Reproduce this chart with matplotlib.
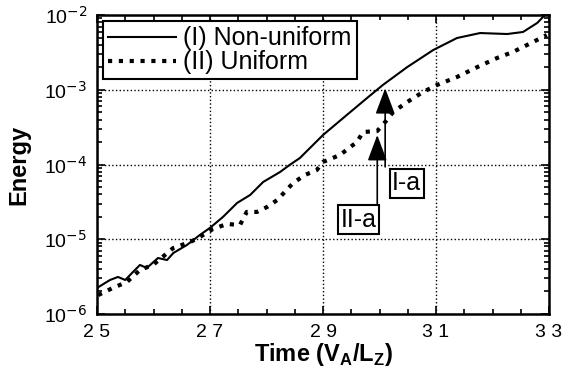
import matplotlib.pyplot as plt
from matplotlib.ticker import MultipleLocator, LogLocator, NullFormatter

plt.rcParams['font.family'] = ['Liberation Sans', 'DejaVu Sans']
plt.rcParams['mathtext.fontset'] = 'custom'
plt.rcParams['mathtext.rm'] = 'Liberation Sans'
plt.rcParams['mathtext.bf'] = 'Liberation Sans:bold'

# (I) Non-uniform
t_nonuni = [25.00, 25.23, 25.37, 25.50, 25.62, 25.76, 25.88, 26.08, 26.24, 26.35,
            26.59, 26.82, 27.00, 27.23, 27.48, 27.71, 27.94, 28.24, 28.42, 28.59,
            29.00, 29.42, 29.78, 30.06, 30.49, 30.95, 31.37, 31.78, 32.26, 32.54,
            32.79, 32.96, 33.00]
e_nonuni = [2.23e-6, 2.85e-6, 3.13e-6, 2.85e-6, 3.54e-6, 4.53e-6, 4.12e-6, 5.61e-6, 5.27e-6, 6.54e-6,
            8.37e-6, 1.14e-5, 1.42e-5, 1.99e-5, 3.06e-5, 3.91e-5, 5.83e-5, 7.94e-5, 1.00e-4, 1.22e-4,
            2.48e-4, 4.59e-4, 7.76e-4, 1.16e-3, 2.01e-3, 3.40e-3, 4.92e-3, 5.74e-3, 5.57e-3, 5.93e-3,
            7.82e-3, 1.06e-2, 1.2e-2]

# (II) Uniform
t_uni = [25.02, 25.28, 25.53, 25.76, 25.99, 26.35, 26.65, 26.82, 27.05, 27.30,
         27.53, 27.65, 27.83, 28.01, 28.19, 28.47, 28.68, 28.89, 29.00, 29.30,
         29.60, 29.71, 29.96, 30.13, 30.24, 30.49, 30.77, 31.02, 31.37, 31.73,
         32.08, 32.36, 32.72, 32.96]
e_uni = [1.79e-6, 2.23e-6, 2.68e-6, 3.88e-6, 4.53e-6, 7.64e-6, 9.19e-6, 1.07e-5, 1.37e-5, 1.60e-5,
         1.55e-5, 2.32e-5, 2.32e-5, 2.70e-5, 3.35e-5, 5.65e-5, 7.24e-5, 8.44e-5, 1.08e-4, 1.34e-4,
         2.00e-4, 2.72e-4, 2.81e-4, 3.93e-4, 5.03e-4, 6.85e-4, 9.33e-4, 1.16e-3, 1.48e-3, 2.01e-3,
         2.66e-3, 3.20e-3, 4.36e-3, 5.40e-3]

# annotations: label, arrow x, arrow tip, arrow base, box centre
annot_labels = ['I-a', 'II-a']
annot_x = [30.10, 29.96]
annot_tip = [1.05e-3, 2.48e-4]
annot_base = [9.3e-5, 2.87e-5]
box_x = [30.48, 29.63]
box_y = [5.65e-5, 1.81e-5]

x_ticks = [25, 27, 29, 31, 33]
x_labels = ['2 5', '2 7', '2 9', '3 1', '3 3']
y_ticks = [1e-6, 1e-5, 1e-4, 1e-3, 1e-2]
y_labels = [r'10$^{\mathsf{-6}}$', r'10$^{\mathsf{-5}}$', r'10$^{\mathsf{-4}}$',
            r'10$^{\mathsf{-3}}$', r'10$^{\mathsf{-2}}$']

fig = plt.figure(figsize=(5.66, 3.69), dpi=100)
ax = fig.add_axes([0.1714, 0.1491, 0.7986, 0.8102])

ax.plot(t_nonuni, e_nonuni, color='black', lw=1.5, label='(I) Non-uniform')
ax.plot(t_uni, e_uni, color='black', lw=3, linestyle=(0, (1, 1.6)),
        dash_capstyle='butt', label='(II) Uniform')

for lab, ax_x, tip, base, bx, by in zip(annot_labels, annot_x, annot_tip, annot_base, box_x, box_y):
    ax.annotate('', xy=(ax_x, tip), xytext=(ax_x, base),
                arrowprops=dict(arrowstyle='-|>,head_length=0.8,head_width=0.3',
                                color='black', lw=1.2, mutation_scale=20,
                                shrinkA=0, shrinkB=0))
    ax.text(bx, by, lab, fontsize=18, ha='center', va='center',
            bbox=dict(boxstyle='square,pad=0.1', fc='white', ec='black', lw=1.5))

ax.set_yscale('log')
ax.set_xlim(25, 33)
ax.set_ylim(1e-6, 1e-2)
ax.set_xticks(x_ticks)
ax.set_xticklabels(x_labels)
ax.set_yticks(y_ticks)
ax.set_yticklabels(y_labels)
ax.xaxis.set_minor_locator(MultipleLocator(0.5))
ax.yaxis.set_minor_locator(LogLocator(base=10, subs=range(2, 10)))
ax.yaxis.set_minor_formatter(NullFormatter())

ax.tick_params(which='both', direction='in', top=True, right=True, width=1.2)
ax.tick_params(which='major', length=6, labelsize=14, pad=7)
ax.tick_params(which='minor', length=3.5)
ax.grid(True, which='major', color='black', linestyle=':', lw=1)
for s in ax.spines.values():
    s.set_linewidth(1.8)

ax.set_xlabel(r'Time (V$_\mathbf{A}$/L$_\mathbf{Z}$)', fontsize=17, fontweight='bold', labelpad=0)
ax.set_ylabel('Energy', fontsize=17, fontweight='bold', labelpad=10)

leg = ax.legend(loc='upper left', fontsize=18, handlelength=2.7, frameon=True,
                fancybox=False, borderaxespad=0.25, labelspacing=0.0,
                borderpad=0.2, handletextpad=0.3)
leg.get_frame().set_edgecolor('black')
leg.get_frame().set_linewidth(1.5)
leg.get_frame().set_alpha(1)

fig.savefig('out.png', dpi=100)
